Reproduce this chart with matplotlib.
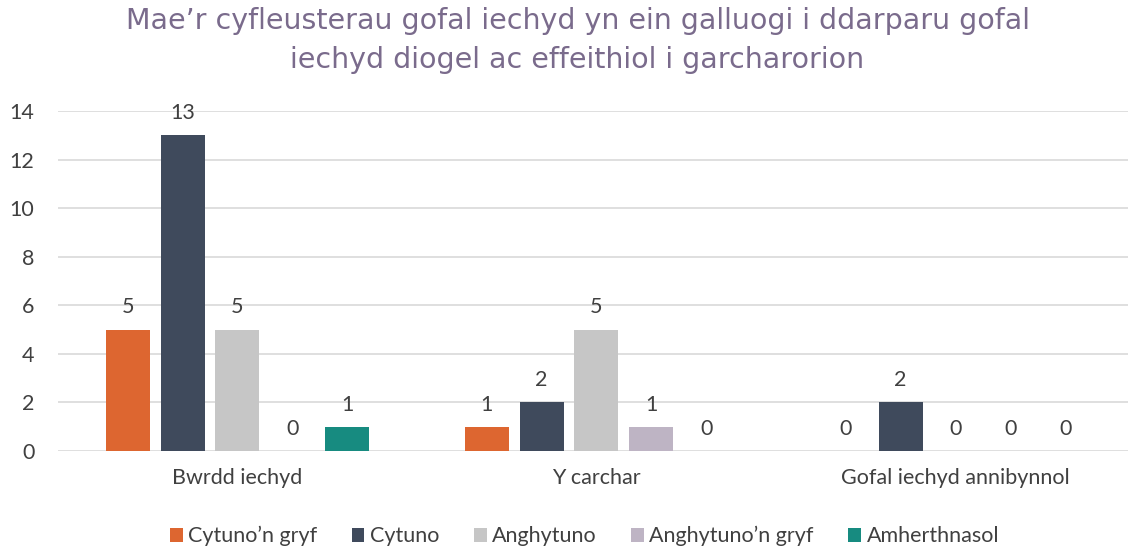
import numpy as np
import matplotlib.pyplot as plt

# Data
categories = ['Bwrdd iechyd', 'Y carchar', 'Gofal iechyd annibynnol']
series = ['Cytuno\u2019n gryf', 'Cytuno', 'Anghytuno', 'Anghytuno\u2019n gryf', 'Amherthnasol']
values = [
    [5, 1, 0],
    [13, 2, 2],
    [5, 5, 0],
    [0, 1, 0],
    [1, 0, 0],
]
colors = ['#DD6630', '#3F4A5C', '#C6C6C6', '#BEB4C4', '#178B80']
title = 'Mae\u2019r cyfleusterau gofal iechyd yn ein galluogi i ddarparu gofal\niechyd diogel ac effeithiol i garcharorion'

plt.rcParams['font.family'] = ['Lato', 'DejaVu Sans']
text_col = '#404040'

fig = plt.figure(figsize=(11.28, 5.5), dpi=100)
ax = fig.add_axes([0.0514, 0.18, 1077 / 1128, 0.618])

x = np.arange(len(categories))
stride = 0.153
width = 0.1226
for i, (name, vals) in enumerate(zip(series, values)):
    pos = x + (i - 2) * stride
    ax.bar(pos, vals, width, color=colors[i], label=name, zorder=3)
    for p, v in zip(pos, vals):
        ax.text(p, v + 0.5, str(v), ha='center', va='bottom', fontsize=15.5, color=text_col)

ax.set_xlim(-0.5, 2.5)
ax.set_ylim(0, 14)
ax.set_yticks(range(0, 15, 2))
ax.set_xticks(x)
ax.set_xticklabels(categories)
ax.tick_params(axis='both', length=0, labelsize=15.5, labelcolor=text_col)
ax.tick_params(axis='x', pad=12)
ax.tick_params(axis='y', pad=17)
ax.grid(axis='y', color='#D9D9D9', linewidth=1.2, zorder=0)
for s in ax.spines.values():
    s.set_visible(False)

fig.text(0.512, 0.926, title, ha='center', va='center', fontsize=20.5,
         color='#7A6B8C', family=['DejaVu Sans'], linespacing=1.5)

fig.legend(loc='center', bbox_to_anchor=(0.518, 0.025), ncol=5, frameon=False,
           fontsize=15.5, labelcolor=text_col, handlelength=0.6, handleheight=0.6,
           handletextpad=0.25, columnspacing=1.6)

fig.savefig('out.png', dpi=100)
